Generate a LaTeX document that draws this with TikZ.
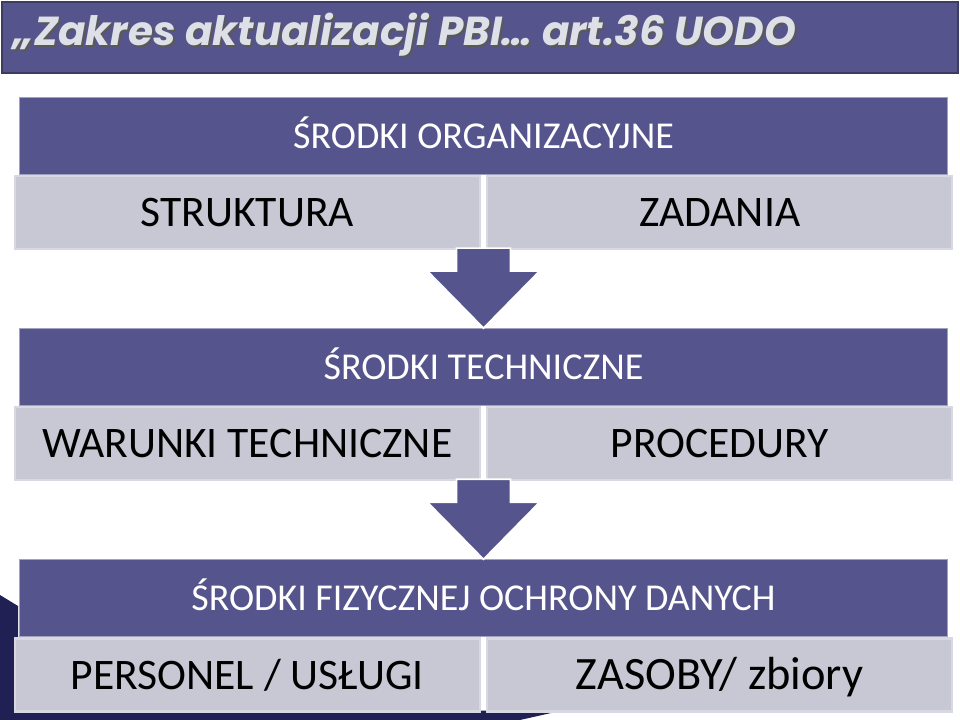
\documentclass[tikz,border=0pt]{standalone}
\usepackage{fontspec}
\setmainfont{Carlito}
\newfontfamily\titlefont{Poppins}
\usepackage{tikz}
\usetikzlibrary{positioning}
\usetikzlibrary{calc}
\definecolor{slidepurple}{RGB}{86,84,140}
\definecolor{cellgray}{RGB}{200,200,212}
\definecolor{cellline}{RGB}{216,216,226}
\definecolor{titlegray}{RGB}{222,224,232}
\definecolor{swoosh}{RGB}{32,32,84}

\begin{document}
\begin{tikzpicture}[x=0.025cm, y=-0.025cm, node distance=2cm, auto,
    header/.style={fill=slidepurple, draw=slidepurple!55, line width=0.8pt, minimum width=23.175cm, minimum height=1.925cm, inner sep=0pt, text=white, text height=17.4pt, text depth=0pt, font=\fontsize{27}{30}\selectfont},
    cell/.style={fill=cellgray, draw=cellline, line width=1.5pt, minimum width=11.625cm, minimum height=1.825cm, inner sep=0pt, text height=20pt, text depth=0pt, font=\fontsize{31}{34}\selectfont},
    bigcell/.style={cell, text height=21.2pt, font=\fontsize{33}{36}\selectfont},
    blockarrow/.style={fill=slidepurple, draw=white, line width=1.2pt, line join=miter}]
        \useasboundingbox (0,0) rectangle (960,720);
        \fill[swoosh] (0,595) -- (18,606) -- (18,708) -- (560,711) -- (520,720) -- (0,720) -- cycle;

        \node[fill=slidepurple, draw=slidepurple!70!black, line width=1pt, minimum width=23.9cm, minimum height=1.775cm] (titlebar) at (480,37.5) {};
        \node[anchor=base west, text=black!65, font=\titlefont\bfseries\itshape\fontsize{28.8}{32}\selectfont] (titleshadow) at (10,47.5) {„Zakres aktualizacji PBI… art.36 UODO};
        \node[anchor=base west, text=titlegray, font=\titlefont\bfseries\itshape\fontsize{28.8}{32}\selectfont] (title) at (8,45.5) {„Zakres aktualizacji PBI… art.36 UODO};

        \node[header] (org) at (483.5,136) {ŚRODKI ORGANIZACYJNE};
        \node[cell, below left=0pt and 1.8pt of org.south] (struktura) {STRUKTURA};
        \node[cell, below right=0pt and 1.8pt of org.south] (zadania) {ZADANIA};

        \node[header, below=3.825cm of org] (tech) {ŚRODKI TECHNICZNE};
        \node[cell, below left=0pt and 1.8pt of tech.south] (warunki) {WARUNKI TECHNICZNE};
        \node[cell, below right=0pt and 1.8pt of tech.south] (procedury) {PROCEDURY};

        \node[header, below=3.825cm of tech] (fiz) {ŚRODKI FIZYCZNEJ OCHRONY DANYCH};
        \node[cell, below left=0pt and 1.8pt of fiz.south] (personel) {PERSONEL / USŁUGI};
        \node[bigcell, below right=0pt and 1.8pt of fiz.south] (zasoby) {ZASOBY/ zbiory};

        \foreach \b in {tech, fiz}
            \draw[blockarrow] (\b.north) -- ++(-56,-57) -- ++(29,0) -- ++(0,-23) -- ++(54,0) -- ++(0,23) -- ++(29,0) -- cycle;
\end{tikzpicture}
\end{document}
